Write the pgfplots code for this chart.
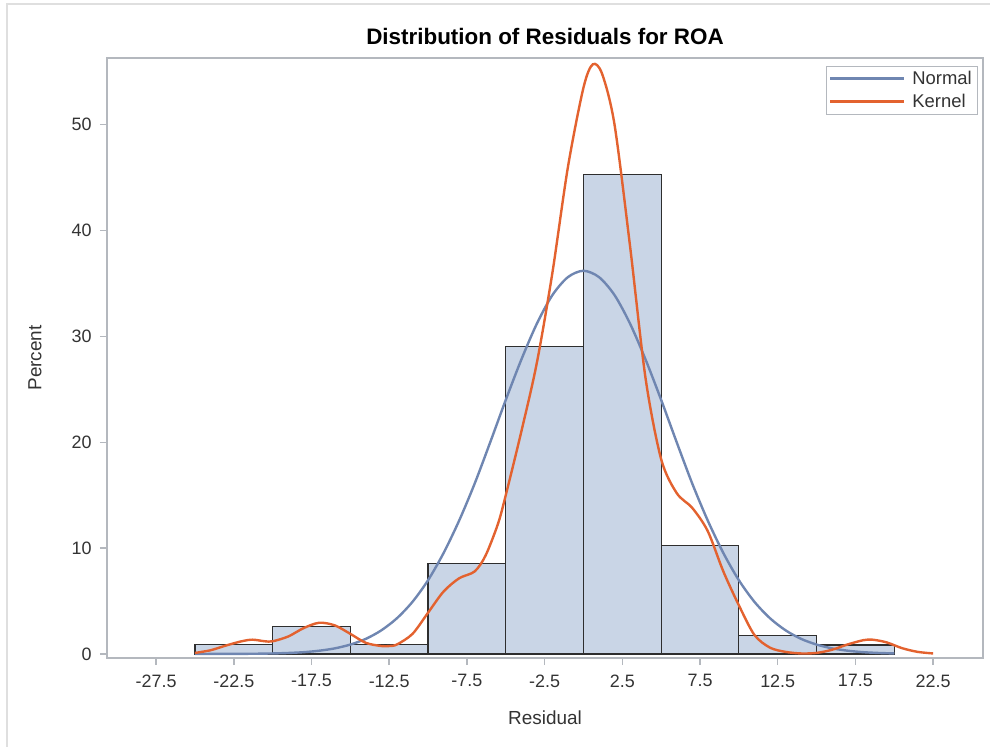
\documentclass[border=0pt]{standalone}
\usepackage{fontspec}
\setmainfont{Liberation Sans}
\usepackage{pgfplots}
\pgfplotsset{compat=1.18}

\definecolor{normalblue}{HTML}{6F86B1}
\definecolor{kernelorange}{HTML}{E3622F}
\definecolor{barfill}{HTML}{C9D5E6}
\definecolor{baredge}{HTML}{2E2E2E}
\definecolor{framegray}{HTML}{B4B8BE}
\definecolor{textgray}{HTML}{333333}

\begin{document}
\begin{tikzpicture}
\begin{axis}[
    scale only axis,
    width=876bp, height=600bp,
    xmin=-30.66, xmax=25.71,
    ymin=-0.38, ymax=56.3,
    axis line style={framegray, line width=1.2bp},
    tick style={framegray, line width=1.5bp},
    tick align=outside,
    major tick length=7bp,
    xtick pos=bottom, ytick pos=left,
    xtick={-27.5,-22.5,-17.5,-12.5,-7.5,-2.5,2.5,7.5,12.5,17.5,22.5},
    xticklabels={-27.5,-22.5,-17.5,-12.5,-7.5,-2.5,2.5,7.5,12.5,17.5,22.5},
    ytick={0,10,20,30,40,50},
    /pgf/number format/assume math mode=true,
    ticklabel style={font=\fontsize{18}{21}\selectfont, text=textgray},
    xticklabel style={yshift=-6bp},
    yticklabel style={xshift=-5bp},
    title={Distribution of Residuals for ROA},
    every axis title/.style={at={(0.5,1)}, anchor=center, yshift=22bp,
        font=\bfseries\fontsize{22.5}{26}\selectfont},
    xlabel={Residual},
    ylabel={Percent},
    every axis x label/.style={at={(axis description cs:0.5,-0.1)}, anchor=center,
        font=\fontsize{19}{22}\selectfont, text=textgray},
    every axis y label/.style={at={(axis description cs:-0.0822,0.5)}, rotate=90, anchor=center,
        font=\fontsize{19}{22}\selectfont, text=textgray},
    legend style={at={(rel axis cs:1,1)}, xshift=-6bp, yshift=-8bp, anchor=north east,
        draw=framegray, font=\fontsize{18.5}{21}\selectfont, text=textgray,
        inner xsep=3bp, inner ysep=3bp, row sep=4bp},
    legend cell align=left,
    legend image code/.code={\draw[#1] (0bp,0bp) -- (74bp,0bp); \path (79bp,0bp);},
]
\addplot[ybar interval, fill=barfill, draw=baredge, line width=1.2bp, forget plot] coordinates {
    (-25,0.9) (-20,2.6) (-15,0.9) (-10,8.55) (-5,29.05) (0,45.3) (5,10.25) (10,1.75) (15,0.85) (20,0.85)
};
\addplot[normalblue, line width=2.4bp, smooth] coordinates {
    (-25,0.001) (-24,0.003) (-23,0.006) (-22,0.012) (-21,0.025) (-20,0.05)
    (-19,0.095) (-18,0.17) (-17,0.31) (-16,0.53) (-15,0.89) (-14,1.43)
    (-13,2.24) (-12,3.38) (-11,4.93) (-10,6.97) (-9,9.54) (-8,12.6)
    (-7,16.1) (-6,20.0) (-5,24.0) (-4,27.8) (-3,31.2) (-2,33.9) (-1,35.6)
    (0,36.2) (1,35.6) (2,33.9) (3,31.2) (4,27.8) (5,24.0) (6,20.0) (7,16.1)
    (8,12.6) (9,9.54) (10,6.97) (11,4.93) (12,3.38) (13,2.24) (14,1.43)
    (15,0.89) (16,0.53) (17,0.31) (18,0.17) (19,0.095) (20,0.05)
};
\addlegendentry{Normal}
\addplot[kernelorange, line width=2.4bp, smooth] coordinates {
    (-25,0.1) (-24,0.35) (-23,0.8) (-22,1.2) (-21.3,1.35) (-20.5,1.2) (-20,1.2)
    (-19,1.65) (-18,2.45) (-17,2.95) (-16,2.7) (-15,1.9) (-14,1.05) (-13,0.75)
    (-12.5,0.75) (-12,0.9) (-11,1.9) (-10,3.9) (-9,5.9) (-8,7.15) (-7,7.8)
    (-6.3,9.3) (-5.5,12.3) (-5,15.0) (-4,21) (-3,27.5) (-2,36) (-1,46)
    (0,53.5) (0.6,55.7) (1.2,54.8) (2,50) (3,38.5) (4,26) (5,18.4) (6,15.2)
    (7,13.8) (8,11.6) (9,7.8) (10,4.6) (11,1.8) (12,0.6) (13,0.2) (14,0.05)
    (15,0.1) (16,0.4) (17,0.9) (18,1.3) (18.6,1.35) (19.5,1.1) (20.5,0.55)
    (21.5,0.2) (22.5,0.05)
};
\addlegendentry{Kernel}
\end{axis}
\pgfresetboundingbox
\path[use as bounding box] ([shift={(-107bp,-89bp)}]current axis.south west)
    rectangle ([shift={(7bp,58bp)}]current axis.north east);
\draw[gray!25, line width=1.5bp] ([shift={(-100bp,-89bp)}]current axis.south west)
    -- ([shift={(-100bp,54bp)}]current axis.north west) -- ([shift={(7bp,54bp)}]current axis.north east);
\end{tikzpicture}
\end{document}
